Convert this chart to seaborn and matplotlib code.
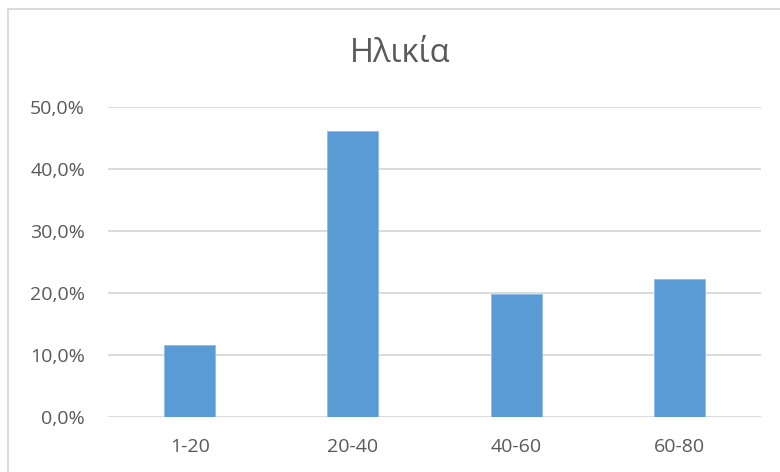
import matplotlib
matplotlib.use("Agg")
import matplotlib.pyplot as plt
from matplotlib.patches import Rectangle
from matplotlib.ticker import FuncFormatter, MultipleLocator
import seaborn as sns
import pandas as pd

categories = ["1-20", "20-40", "40-60", "60-80"]
shares = [11.6, 46.2, 19.8, 22.3]
title = "Ηλικία"

df = pd.DataFrame({"age": categories, "share": shares})

sns.set_style("white")
plt.rcParams["font.family"] = ["Open Sans", "DejaVu Sans"]

W, H = 780, 472
fig = plt.figure(figsize=(W / 100, H / 100), dpi=100)
fig.patch.set_facecolor("white")

# chart frame (only top and left edges fall inside the canvas)
fig.add_artist(Rectangle((8 / W, -0.1), 2.0, 1.1 - 8.5 / H, transform=fig.transFigure,
                         fill=False, edgecolor="#D9D9D9", linewidth=1.3))

ax = fig.add_axes([108 / W, (H - 417) / H, (761 - 108) / W, 310 / H])
sns.barplot(data=df, x="age", y="share", color="#5B9BD5", width=0.313,
            saturation=1, ax=ax, zorder=3, edgecolor="#8FBCE6", linewidth=0.6)

ax.set_ylim(0, 50)
ax.set_xlim(-0.5, 3.5)
ax.yaxis.set_major_locator(MultipleLocator(10))
ax.yaxis.set_major_formatter(FuncFormatter(lambda v, _: f"{v:.1f}%".replace(".", ",")))
ax.grid(axis="y", color="#D9D9D9", linewidth=1.3, zorder=0)
ax.set_axisbelow(True)
for s in ax.spines.values():
    s.set_visible(False)
ax.set_xlabel("")
ax.set_ylabel("")
ax.tick_params(axis="both", length=0, labelsize=14, colors="#595959")
ax.tick_params(axis="y", pad=16.5)
ax.tick_params(axis="x", pad=15)

fig.text(400 / W, 1 - 53 / H, title, ha="center", va="center",
         fontsize=23.5, color="#595959")

fig.savefig("out.png", dpi=100)
